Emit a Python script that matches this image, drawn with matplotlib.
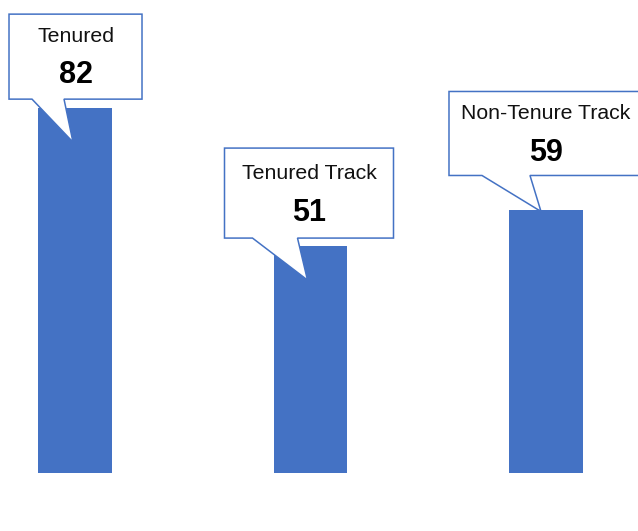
import matplotlib
matplotlib.use('Agg')
import matplotlib.pyplot as plt
from matplotlib.patches import Polygon
from matplotlib.transforms import IdentityTransform

categories = ['Tenured', 'Tenured Track', 'Non-Tenure Track']
values = [82, 51, 59]

BLUE = '#4472C4'
W, H = 638, 531
plt.rcParams['font.family'] = ['Liberation Sans', 'DejaVu Sans']

fig = plt.figure(figsize=(W / 100, H / 100), dpi=100)
ax = fig.add_axes([0, 0, 1, 1])
xs = list(range(len(categories)))
ax.bar(xs, values, width=0.312, color=BLUE, zorder=1)
ax.set_xlim(-0.3185, 2.3907)
ax.set_ylim(-13.03, 106.3)
ax.axis('off')

# callout geometry, pixel offsets relative to bar-top centre (x right, y up)
geoms = [
    dict(l=-66, r=67, t=94, b=9, bl=-43, br=-11, tx=-2, ty=-34, lab=28, val=69),
    dict(l=-86, r=83, t=98, b=8, bl=-58, br=-13, tx=-3, ty=-34, lab=31, val=73),
    dict(l=-97, r=100, t=119, b=35, bl=-64, br=-16, tx=-5, ty=-1, lab=28, val=70),
]

ident = IdentityTransform()
for i, (cat, val, g) in enumerate(zip(categories, values, geoms)):
    px, py = ax.transData.transform((xs[i], val))
    L, R = px + g['l'], px + g['r']
    T, B = py + g['t'], py + g['b']
    verts = [(L, T), (R, T), (R, B), (px + g['br'], B),
             (px + g['tx'], py + g['ty']), (px + g['bl'], B), (L, B)]
    poly = Polygon(verts, closed=True, facecolor='white', edgecolor=BLUE,
                   linewidth=1.1, transform=ident, zorder=3, joinstyle='miter')
    ax.add_patch(poly)
    cx = (L + min(R, px + 97)) / 2
    ax.text(cx, T - g['lab'], cat, transform=ident, ha='center', va='baseline',
            fontsize=15.3, color='#111111', zorder=4)
    ax.text(cx, T - g['val'], str(val), transform=ident, ha='center', va='baseline',
            fontsize=22, fontweight='bold', color='black', zorder=4)

fig.savefig('out.png', dpi=100)
